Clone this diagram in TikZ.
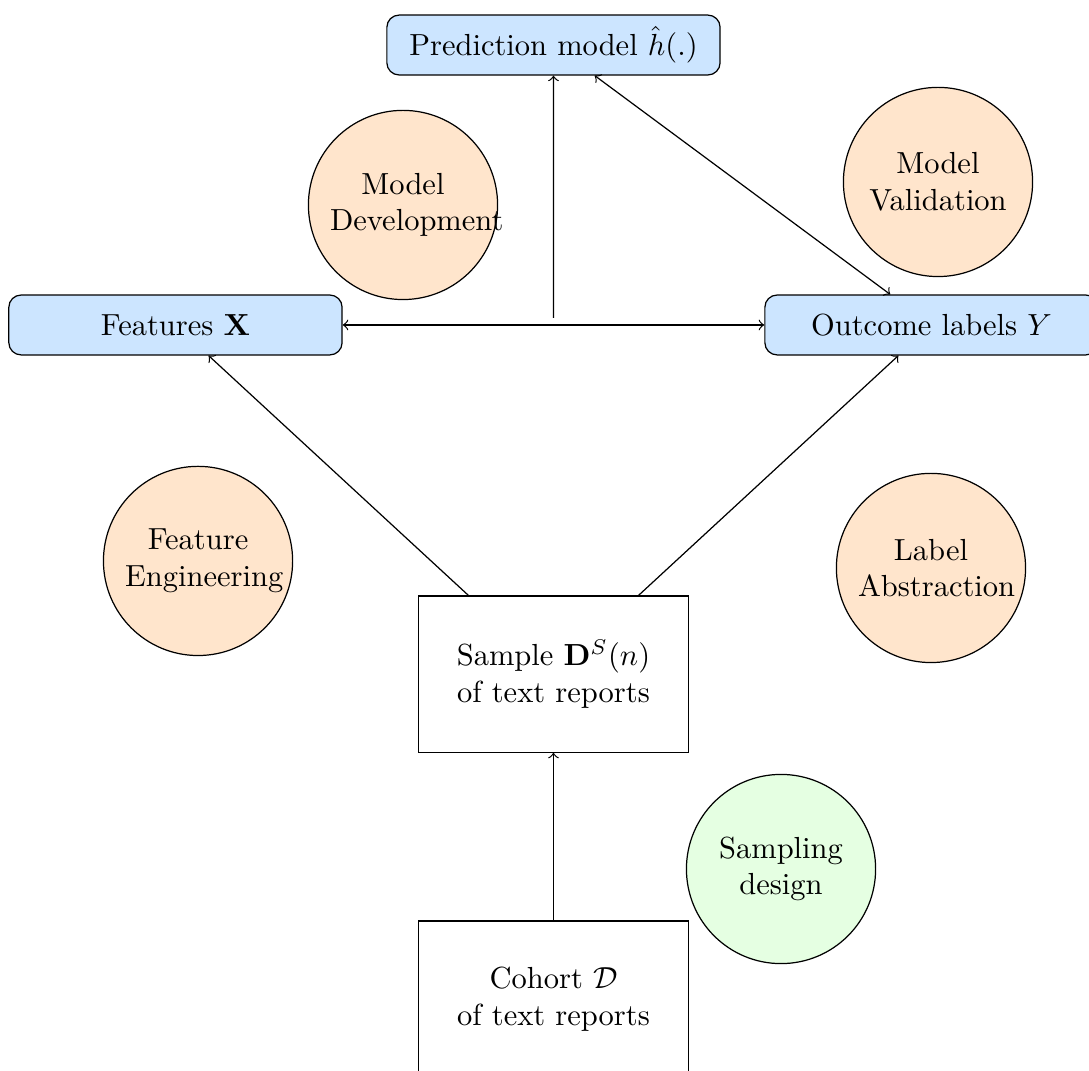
\documentclass[tikz,border=0pt]{standalone}
\usepackage{amsmath}
\usetikzlibrary{calc}
\definecolor{azulclaro}{RGB}{204,229,255}
\definecolor{laranjaclaro}{RGB}{255,229,204}
\definecolor{verdeclaro}{RGB}{229,255,226}

\begin{document}
\begin{tikzpicture}[>=to,
  every node/.style={font=\normalsize}
]
\tikzset{
  azul/.style={rectangle, rounded corners, draw=black, fill=azulclaro,
    minimum width=3.84cm, minimum height=0.69cm},
  caixa/.style={rectangle, draw=black, minimum width=3.12cm, minimum height=1.8cm, align=center},
  laranja/.style={circle, draw=black, fill=laranjaclaro, minimum size=2.18cm,
    text width=1.68cm, align=center, inner sep=0pt},
  verde/.style={laranja, fill=verdeclaro}
}
\useasboundingbox (0,0) rectangle (12.549,-12.341);

% boxes
\node[azul] (prediction) at (6.378,-0.519) {Prediction model $\hat{h}(.)$};
\node[azul] (features) at (2.022,-3.745) {Features $\mathbf{X}$};
\node[azul] (outcome) at (10.734,-3.745) {Outcome labels $Y$};
\node[caixa] (sample) at (6.378,-7.767) {Sample $\mathbf{D}^S(n)$\\of text reports};
\node[caixa] (cohort) at (6.378,-11.512) {Cohort $\mathcal{D}$\\of text reports};

% steps
\node[laranja] (dev) at (4.644,-2.362) {Model\\Development};
\node[laranja] (val) at (10.809,-2.097) {Model\\Validation};
\node[laranja] (feat) at (2.282,-6.464) {Feature\\Engineering};
\node[laranja] (lab) at (10.728,-6.545) {Label\\Abstraction};
\node[verde] (design) at (9.0,-10.014) {Sampling\\design};

\coordinate (mid) at ($(features.east)!0.5!(outcome.west)$);

\draw[->] (cohort) -- (sample);
\draw[->] (sample) -- (features);
\draw[->] (sample) -- (outcome);
\draw[<->] (features) -- (outcome);
\draw[->] ([yshift=2.3pt]mid) -- (prediction.south);
\draw[<->] (outcome) -- (prediction);
\end{tikzpicture}
\end{document}
